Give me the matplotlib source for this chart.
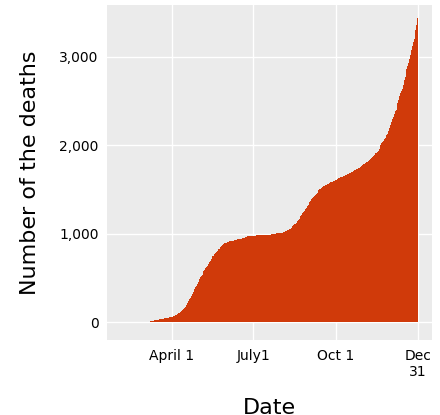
import matplotlib
matplotlib.use('Agg')
import matplotlib.pyplot as plt
import numpy as np

# cumulative deaths, one value per day starting Feb 13 2020 (day-of-year 44)
start_day = 44
deaths = [
	1, 1, 1, 1, 1, 1, 1,
	3, 3, 3, 4, 4, 4, 5,
	5, 5, 6, 6, 6, 6, 7,
	7, 8, 9, 10, 12, 15, 16,
	19, 21, 22, 24, 27, 29, 30,
	32, 33, 35, 41, 43, 45, 46,
	47, 49, 52, 54, 56, 57, 59,
	63, 70, 73, 81, 85, 94, 98,
	104, 109, 119, 124, 136, 149, 158,
	170, 183, 199, 222, 244, 263, 277,
	294, 317, 340, 360, 376, 396, 415,
	432, 455, 487, 510, 521, 535, 551,
	574, 591, 614, 621, 633, 657, 678,
	697, 710, 725, 744, 750, 768, 778,
	796, 808, 822, 832, 845, 858, 867,
	874, 886, 891, 894, 898, 905, 911,
	916, 917, 918, 919, 920, 922, 925,
	927, 930, 935, 936, 937, 940, 943,
	944, 947, 955, 957, 962, 965, 966,
	971, 972, 972, 973, 974, 975, 976,
	977, 977, 979, 980, 980, 982, 982,
	984, 984, 984, 985, 985, 985, 986,
	987, 988, 989, 989, 991, 992, 994,
	996, 998, 1000, 1001, 1003, 1004, 1004,
	1005, 1006, 1007, 1010, 1014, 1016, 1021,
	1027, 1032, 1040, 1045, 1050, 1057, 1067,
	1078, 1086, 1096, 1105, 1114, 1125, 1141,
	1155, 1167, 1182, 1200, 1212, 1229, 1244,
	1260, 1278, 1292, 1309, 1320, 1337, 1355,
	1375, 1390, 1406, 1420, 1430, 1442, 1453,
	1465, 1476, 1491, 1502, 1510, 1520, 1528,
	1535, 1540, 1549, 1555, 1557, 1561, 1566,
	1572, 1580, 1586, 1589, 1591, 1595, 1602,
	1606, 1612, 1621, 1626, 1629, 1637, 1642,
	1645, 1650, 1654, 1656, 1661, 1667, 1672,
	1678, 1682, 1690, 1693, 1700, 1705, 1713,
	1718, 1723, 1727, 1732, 1737, 1746, 1755,
	1761, 1768, 1778, 1784, 1790, 1797, 1808,
	1815, 1825, 1835, 1841, 1850, 1858, 1871,
	1881, 1893, 1906, 1916, 1928, 1937, 1958,
	1978, 2001, 2019, 2031, 2044, 2065, 2086,
	2110, 2131, 2156, 2181, 2196, 2226, 2260,
	2290, 2322, 2353, 2380, 2396, 2437, 2479,
	2514, 2549, 2585, 2610, 2631, 2684, 2730,
	2773, 2816, 2859, 2890, 2931, 2975, 3021,
	3071, 3117, 3165, 3203, 3247, 3299, 3353,
	3440,
]
tick_days = [92, 183, 275, 366]
tick_labels = ['April 1', 'July1', 'Oct 1', 'Dec\n31']
y_ticks = [0, 1000, 2000, 3000]
y_labels = ['0', '1,000', '2,000', '3,000']

days = start_day + np.arange(len(deaths))

fig = plt.figure(figsize=(4.4, 4.15), dpi=100)
ax = fig.add_axes([0.243, 0.18, 0.739, 0.808])
ax.set_facecolor('#ebebeb')
ax.grid(True, color='white', linewidth=1)
ax.set_axisbelow(True)
ax.bar(days, deaths, width=1.0, color='#d03a0a', linewidth=0)

ax.set_xlim(20, 382)
ax.set_ylim(-203, 3582)
ax.set_xticks(tick_days)
ax.set_xticklabels(tick_labels, fontsize=10)
ax.set_yticks(y_ticks)
ax.set_yticklabels(y_labels, fontsize=10)
ax.tick_params(length=0, pad=6)
for s in ax.spines.values():
	s.set_visible(False)
ax.set_xlabel('Date', fontsize=16, labelpad=14)
ax.set_ylabel('Number of the deaths', fontsize=16, labelpad=14)

fig.savefig('out.png', dpi=100)
